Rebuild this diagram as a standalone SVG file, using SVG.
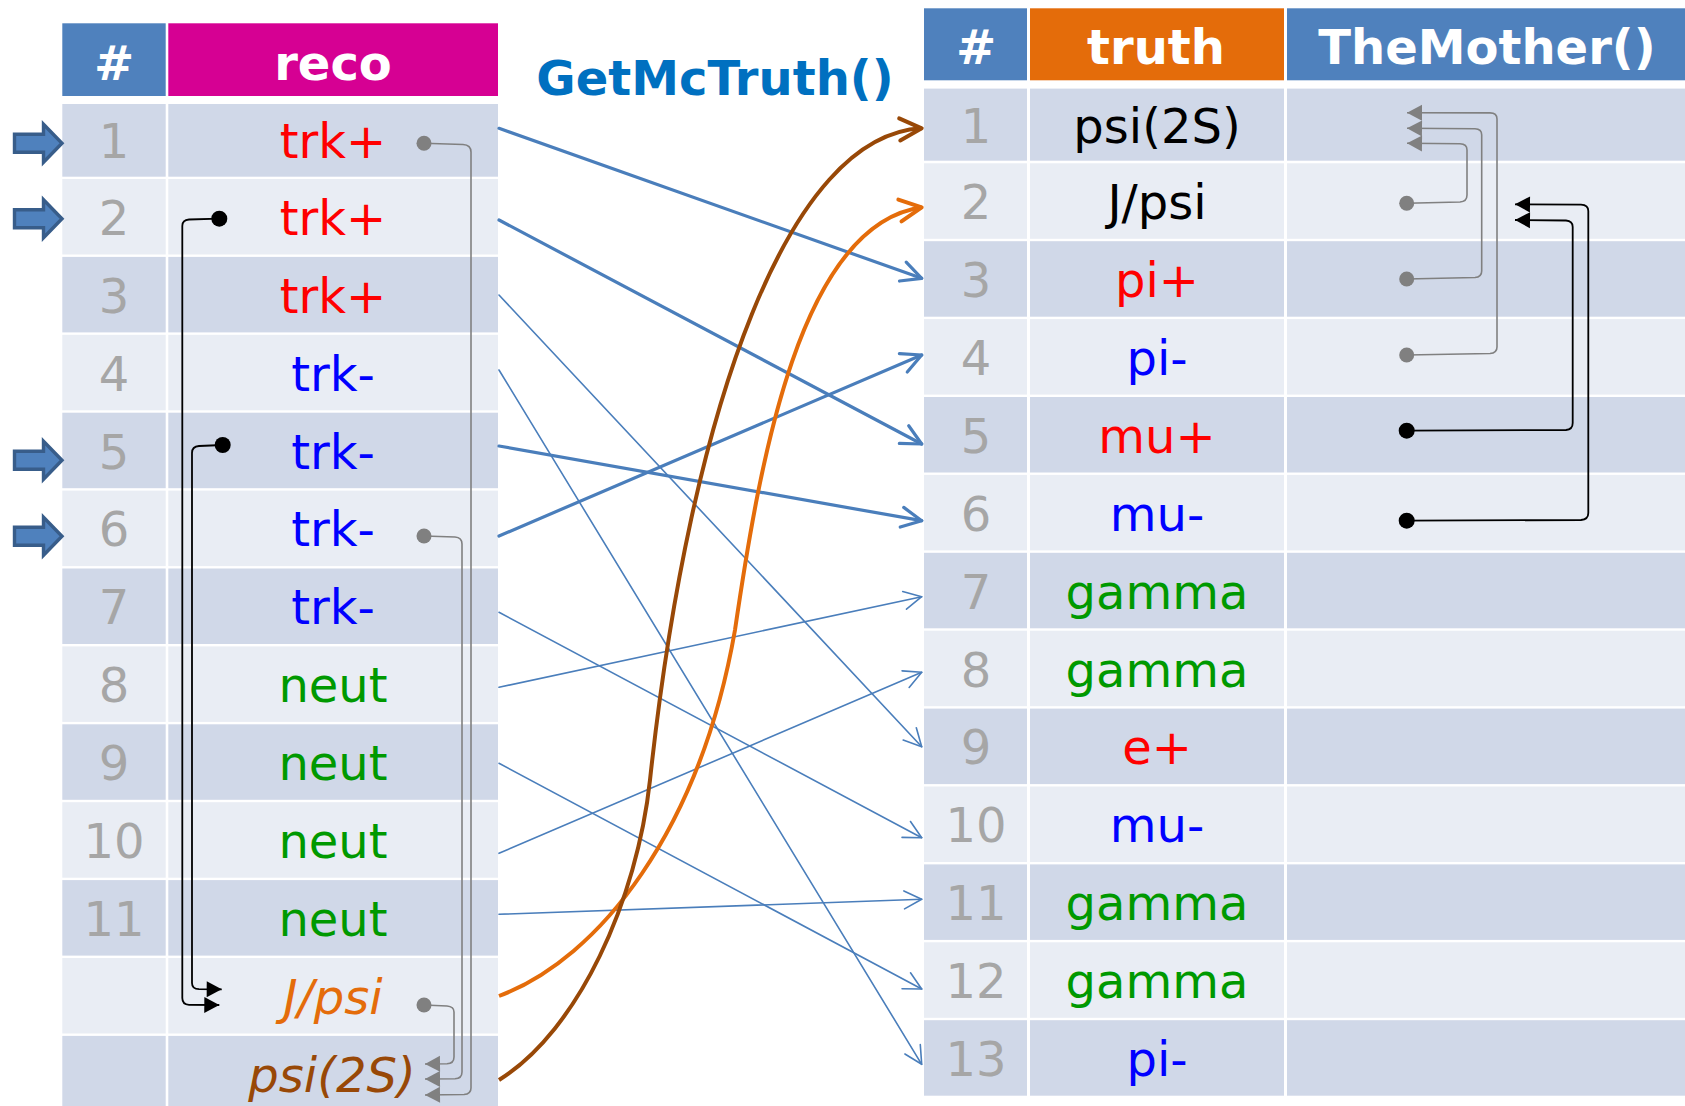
<svg xmlns="http://www.w3.org/2000/svg" width="1685" height="1106" viewBox="0 0 1685 1106">
<defs>
<style>
text{font-family:"DejaVu Sans","Verdana",sans-serif;text-anchor:middle}
.h{font-weight:bold;font-size:48px;fill:#fff}
.n{font-size:48px;fill:#a6a6a6}
.t{font-size:48px}
.dk{fill:#d0d8e8}
.lt{fill:#e9edf4}
.red{fill:#ff0000}.blu{fill:#0000ff}.grn{fill:#009900}.blk{fill:#000}
.bl{fill:none;stroke:#4a7ebb;stroke-linecap:round}
.thick{stroke-width:3.2;marker-end:url(#vThick)}
.thin{stroke-width:1.6;marker-end:url(#vThin)}
.gc{fill:none;stroke:#808080;stroke-width:1.6;marker-end:url(#triGray)}
.bc{fill:none;stroke:#000;stroke-width:1.8;marker-end:url(#triBlack)}
.barrow{fill:#4f81bd;stroke:#385d8a;stroke-width:3.4}
</style>
<marker id="vThick" markerUnits="userSpaceOnUse" orient="auto" overflow="visible" markerWidth="1" markerHeight="1"><path d="M-20,-10 L0,0 L-20,10" fill="none" stroke="#4a7ebb" stroke-width="3.2" stroke-linecap="round" stroke-linejoin="round"/></marker>
<marker id="vThin" markerUnits="userSpaceOnUse" orient="auto" overflow="visible" markerWidth="1" markerHeight="1"><path d="M-17.5,-9 L0,0 L-17.5,9" fill="none" stroke="#4a7ebb" stroke-width="1.6" stroke-linecap="round" stroke-linejoin="round"/></marker>
<marker id="vBrown" markerUnits="userSpaceOnUse" orient="auto" overflow="visible" markerWidth="1" markerHeight="1"><path d="M-22,-11 L0,0 L-22,11" fill="none" stroke="#984807" stroke-width="4" stroke-linecap="round" stroke-linejoin="round"/></marker>
<marker id="vOrange" markerUnits="userSpaceOnUse" orient="auto" overflow="visible" markerWidth="1" markerHeight="1"><path d="M-22,-11 L0,0 L-22,11" fill="none" stroke="#e46c0a" stroke-width="4" stroke-linecap="round" stroke-linejoin="round"/></marker>
<marker id="triGray" markerUnits="userSpaceOnUse" orient="auto" overflow="visible" markerWidth="1" markerHeight="1"><path d="M-15,-8 L0,0 L-15,8 Z" fill="#808080"/></marker>
<marker id="triBlack" markerUnits="userSpaceOnUse" orient="auto" overflow="visible" markerWidth="1" markerHeight="1"><path d="M-15,-8 L0,0 L-15,8 Z" fill="#000"/></marker>
</defs>
<rect x="0" y="0" width="1685" height="1106" fill="#fff"/>

<g id="title"><text x="715" y="95" style="font-weight:bold;font-size:48px;fill:#0070c0">GetMcTruth()</text></g>

<g id="reco-table">
<g id="reco-header">
<rect x="62.3" y="23.3" width="103.4" height="72.7" fill="#4f81bd"/>
<rect x="168.3" y="23.3" width="329.7" height="72.7" fill="#d60093"/>
<text class="h" x="114" y="80">#</text>
<text class="h" x="333" y="80">reco</text>
</g>
<g id="reco-1"><rect class="dk" x="62.3" y="104" width="103.4" height="72.7"/><rect class="dk" x="168.3" y="104" width="329.7" height="72.7"/><text class="n" x="114" y="158.4">1</text><text class="t red" x="333" y="158.4">trk+</text></g>
<g id="reco-2"><rect class="lt" x="62.3" y="179" width="103.4" height="75.5"/><rect class="lt" x="168.3" y="179" width="329.7" height="75.5"/><text class="n" x="114" y="234.8">2</text><text class="t red" x="333" y="234.8">trk+</text></g>
<g id="reco-3"><rect class="dk" x="62.3" y="256.9" width="103.4" height="75.5"/><rect class="dk" x="168.3" y="256.9" width="329.7" height="75.5"/><text class="n" x="114" y="312.7">3</text><text class="t red" x="333" y="312.7">trk+</text></g>
<g id="reco-4"><rect class="lt" x="62.3" y="334.8" width="103.4" height="75.5"/><rect class="lt" x="168.3" y="334.8" width="329.7" height="75.5"/><text class="n" x="114" y="390.6">4</text><text class="t blu" x="333" y="390.6">trk-</text></g>
<g id="reco-5"><rect class="dk" x="62.3" y="412.7" width="103.4" height="75.5"/><rect class="dk" x="168.3" y="412.7" width="329.7" height="75.5"/><text class="n" x="114" y="468.5">5</text><text class="t blu" x="333" y="468.5">trk-</text></g>
<g id="reco-6"><rect class="lt" x="62.3" y="490.6" width="103.4" height="75.5"/><rect class="lt" x="168.3" y="490.6" width="329.7" height="75.5"/><text class="n" x="114" y="546.4">6</text><text class="t blu" x="333" y="546.4">trk-</text></g>
<g id="reco-7"><rect class="dk" x="62.3" y="568.5" width="103.4" height="75.5"/><rect class="dk" x="168.3" y="568.5" width="329.7" height="75.5"/><text class="n" x="114" y="624.3">7</text><text class="t blu" x="333" y="624.3">trk-</text></g>
<g id="reco-8"><rect class="lt" x="62.3" y="646.4" width="103.4" height="75.5"/><rect class="lt" x="168.3" y="646.4" width="329.7" height="75.5"/><text class="n" x="114" y="702.2">8</text><text class="t grn" x="333" y="702.2">neut</text></g>
<g id="reco-9"><rect class="dk" x="62.3" y="724.3" width="103.4" height="75.5"/><rect class="dk" x="168.3" y="724.3" width="329.7" height="75.5"/><text class="n" x="114" y="780.1">9</text><text class="t grn" x="333" y="780.1">neut</text></g>
<g id="reco-10"><rect class="lt" x="62.3" y="802.2" width="103.4" height="75.5"/><rect class="lt" x="168.3" y="802.2" width="329.7" height="75.5"/><text class="n" x="114" y="858">10</text><text class="t grn" x="333" y="858">neut</text></g>
<g id="reco-11"><rect class="dk" x="62.3" y="880.1" width="103.4" height="75.5"/><rect class="dk" x="168.3" y="880.1" width="329.7" height="75.5"/><text class="n" x="114" y="935.9">11</text><text class="t grn" x="333" y="935.9">neut</text></g>
<g id="reco-jpsi"><rect class="lt" x="62.3" y="958" width="103.4" height="75.5"/><rect class="lt" x="168.3" y="958" width="329.7" height="75.5"/><text class="t" x="333" y="1013.8" style="fill:#e46c0a;font-style:italic">J/psi</text></g>
<g id="reco-psi2s"><rect class="dk" x="62.3" y="1035.9" width="103.4" height="75.5"/><rect class="dk" x="168.3" y="1035.9" width="329.7" height="75.5"/><text class="t" x="332" y="1091.7" style="fill:#984807;font-style:italic">psi(2S)</text></g>
</g>

<g id="block-arrows">
<path class="barrow" transform="translate(0,143.3)" d="M14.5,-9 L43.5,-9 L43.5,-19 L62,0 L43.5,19 L43.5,9 L14.5,9 Z"/>
<path class="barrow" transform="translate(0,218.8)" d="M14.5,-9 L43.5,-9 L43.5,-19 L62,0 L43.5,19 L43.5,9 L14.5,9 Z"/>
<path class="barrow" transform="translate(0,460.3)" d="M14.5,-9 L43.5,-9 L43.5,-19 L62,0 L43.5,19 L43.5,9 L14.5,9 Z"/>
<path class="barrow" transform="translate(0,536.3)" d="M14.5,-9 L43.5,-9 L43.5,-19 L62,0 L43.5,19 L43.5,9 L14.5,9 Z"/>
</g>

<g id="truth-table">
<g id="truth-header">
<rect x="924" y="8.3" width="103" height="72" fill="#4f81bd"/>
<rect x="1030" y="8.3" width="254" height="72" fill="#e46c0a"/>
<rect x="1287" y="8.3" width="398" height="72" fill="#4f81bd"/>
<text class="h" x="976" y="64.3">#</text>
<text class="h" x="1156" y="64.3">truth</text>
<text class="h" x="1487" y="64.3">TheMother()</text>
</g>
<g id="truth-1"><rect class="dk" x="924" y="88.6" width="103" height="72.1"/><rect class="dk" x="1030" y="88.6" width="254" height="72.1"/><rect class="dk" x="1287" y="88.6" width="398" height="72.1"/><text class="n" x="976" y="142.7">1</text><text class="t blk" x="1157" y="142.7">psi(2S)</text></g>
<g id="truth-2"><rect class="lt" x="924" y="163.3" width="103" height="75.5"/><rect class="lt" x="1030" y="163.3" width="254" height="75.5"/><rect class="lt" x="1287" y="163.3" width="398" height="75.5"/><text class="n" x="976" y="219">2</text><text class="t blk" x="1157" y="219">J/psi</text></g>
<g id="truth-3"><rect class="dk" x="924" y="241.2" width="103" height="75.5"/><rect class="dk" x="1030" y="241.2" width="254" height="75.5"/><rect class="dk" x="1287" y="241.2" width="398" height="75.5"/><text class="n" x="976" y="297">3</text><text class="t red" x="1157" y="297">pi+</text></g>
<g id="truth-4"><rect class="lt" x="924" y="319.1" width="103" height="75.5"/><rect class="lt" x="1030" y="319.1" width="254" height="75.5"/><rect class="lt" x="1287" y="319.1" width="398" height="75.5"/><text class="n" x="976" y="374.9">4</text><text class="t blu" x="1157" y="374.9">pi-</text></g>
<g id="truth-5"><rect class="dk" x="924" y="397" width="103" height="75.5"/><rect class="dk" x="1030" y="397" width="254" height="75.5"/><rect class="dk" x="1287" y="397" width="398" height="75.5"/><text class="n" x="976" y="452.8">5</text><text class="t red" x="1157" y="452.8">mu+</text></g>
<g id="truth-6"><rect class="lt" x="924" y="474.9" width="103" height="75.5"/><rect class="lt" x="1030" y="474.9" width="254" height="75.5"/><rect class="lt" x="1287" y="474.9" width="398" height="75.5"/><text class="n" x="976" y="530.7">6</text><text class="t blu" x="1157" y="530.7">mu-</text></g>
<g id="truth-7"><rect class="dk" x="924" y="552.8" width="103" height="75.5"/><rect class="dk" x="1030" y="552.8" width="254" height="75.5"/><rect class="dk" x="1287" y="552.8" width="398" height="75.5"/><text class="n" x="976" y="608.6">7</text><text class="t grn" x="1157" y="608.6">gamma</text></g>
<g id="truth-8"><rect class="lt" x="924" y="630.7" width="103" height="75.5"/><rect class="lt" x="1030" y="630.7" width="254" height="75.5"/><rect class="lt" x="1287" y="630.7" width="398" height="75.5"/><text class="n" x="976" y="686.5">8</text><text class="t grn" x="1157" y="686.5">gamma</text></g>
<g id="truth-9"><rect class="dk" x="924" y="708.6" width="103" height="75.5"/><rect class="dk" x="1030" y="708.6" width="254" height="75.5"/><rect class="dk" x="1287" y="708.6" width="398" height="75.5"/><text class="n" x="976" y="764.4">9</text><text class="t red" x="1157" y="764.4">e+</text></g>
<g id="truth-10"><rect class="lt" x="924" y="786.5" width="103" height="75.5"/><rect class="lt" x="1030" y="786.5" width="254" height="75.5"/><rect class="lt" x="1287" y="786.5" width="398" height="75.5"/><text class="n" x="976" y="842.3">10</text><text class="t blu" x="1157" y="842.3">mu-</text></g>
<g id="truth-11"><rect class="dk" x="924" y="864.4" width="103" height="75.5"/><rect class="dk" x="1030" y="864.4" width="254" height="75.5"/><rect class="dk" x="1287" y="864.4" width="398" height="75.5"/><text class="n" x="976" y="920.2">11</text><text class="t grn" x="1157" y="920.2">gamma</text></g>
<g id="truth-12"><rect class="lt" x="924" y="942.3" width="103" height="75.5"/><rect class="lt" x="1030" y="942.3" width="254" height="75.5"/><rect class="lt" x="1287" y="942.3" width="398" height="75.5"/><text class="n" x="976" y="998.1">12</text><text class="t grn" x="1157" y="998.1">gamma</text></g>
<g id="truth-13"><rect class="dk" x="924" y="1020.2" width="103" height="75.5"/><rect class="dk" x="1030" y="1020.2" width="254" height="75.5"/><rect class="dk" x="1287" y="1020.2" width="398" height="75.5"/><text class="n" x="976" y="1076">13</text><text class="t blu" x="1157" y="1076">pi-</text></g>
</g>

<g id="connectors">
<g id="mctruth-links">
<path class="bl thick" d="M499,128.3 L921.7,278.3"/>
<path class="bl thick" d="M499,220 L921.7,444"/>
<path class="bl thin" d="M499,295 L921.7,746.7"/>
<path class="bl thin" d="M499,370 L921.7,1064.3"/>
<path class="bl thick" d="M499,446 L921.7,520.7"/>
<path class="bl thick" d="M499,536 L921.7,355"/>
<path class="bl thin" d="M499,612.3 L921.7,837.7"/>
<path class="bl thin" d="M499,687.3 L921.7,596.7"/>
<path class="bl thin" d="M499,763.3 L921.7,989"/>
<path class="bl thin" d="M499,853.3 L921.7,672.3"/>
<path class="bl thin" d="M499,914.3 L921.7,899.3"/>
<path d="M499,996 C600,958 700,830 735,630 C760,460 800,225 921.7,207.3" fill="none" stroke="#e46c0a" stroke-width="4" marker-end="url(#vOrange)"/>
<path d="M499,1080 C579,1030 637,900 650,780 C691,400 790,135 921.7,128.3" fill="none" stroke="#984807" stroke-width="4" marker-end="url(#vBrown)"/>
</g>
<g id="reco-mother-links">
<path class="gc" d="M424,143.3 L463,144.5 Q471,145 471,152 L471,1088 Q471,1094 464,1094.5 L425,1095"/>
<path class="gc" d="M424,536 L455,537 Q462,537.5 462,544 L462,1072 Q462,1078.5 455,1078.8 L425,1079"/>
<path class="gc" d="M424,1005 L447,1006 Q454,1006.5 454,1012 L454,1057 Q454,1063.5 447,1063.8 L425,1064"/>
<circle cx="424" cy="143.3" r="7.5" fill="#808080"/>
<circle cx="424" cy="536" r="7.5" fill="#808080"/>
<circle cx="424" cy="1005" r="7.5" fill="#808080"/>
<path class="bc" d="M219.3,218.7 L189,219.5 Q182.3,220 182.3,226 L182.3,998 Q182.3,1004.5 189,1004.8 L219.3,1005"/>
<path class="bc" d="M222.7,445 L199,446 Q192,446.5 192,453 L192,983 Q192,989 199,989.2 L221.7,989.3"/>
<circle cx="219.3" cy="218.7" r="8" fill="#000"/>
<circle cx="222.7" cy="445" r="8" fill="#000"/>
</g>
<g id="truth-mother-links">
<path class="gc" d="M1406.7,203.3 L1460,202 Q1467,201.5 1467,195 L1467,150 Q1467,144 1460,143.8 L1407,143.3"/>
<path class="gc" d="M1406.7,279 L1475,277.5 Q1481.7,277 1481.7,271 L1481.7,135 Q1481.7,129 1475,128.8 L1407,128.3"/>
<path class="gc" d="M1406.7,355 L1490,353.5 Q1497,353 1497,347 L1497,119 Q1497,113 1490,112.9 L1407,112.7"/>
<circle cx="1406.7" cy="203.3" r="7.5" fill="#808080"/>
<circle cx="1406.7" cy="279" r="7.5" fill="#808080"/>
<circle cx="1406.7" cy="355" r="7.5" fill="#808080"/>
<path class="bc" d="M1406.7,430.7 L1566,430 Q1572.7,429.5 1572.7,423 L1572.7,227 Q1572.7,221 1566,220.5 L1515,220"/>
<path class="bc" d="M1406.7,520.7 L1581,520 Q1588.3,519.5 1588.3,513 L1588.3,211 Q1588.3,205 1581,204.7 L1515,204.3"/>
<circle cx="1406.7" cy="430.7" r="8" fill="#000"/>
<circle cx="1406.7" cy="520.7" r="8" fill="#000"/>
</g>
</g>
</svg>
